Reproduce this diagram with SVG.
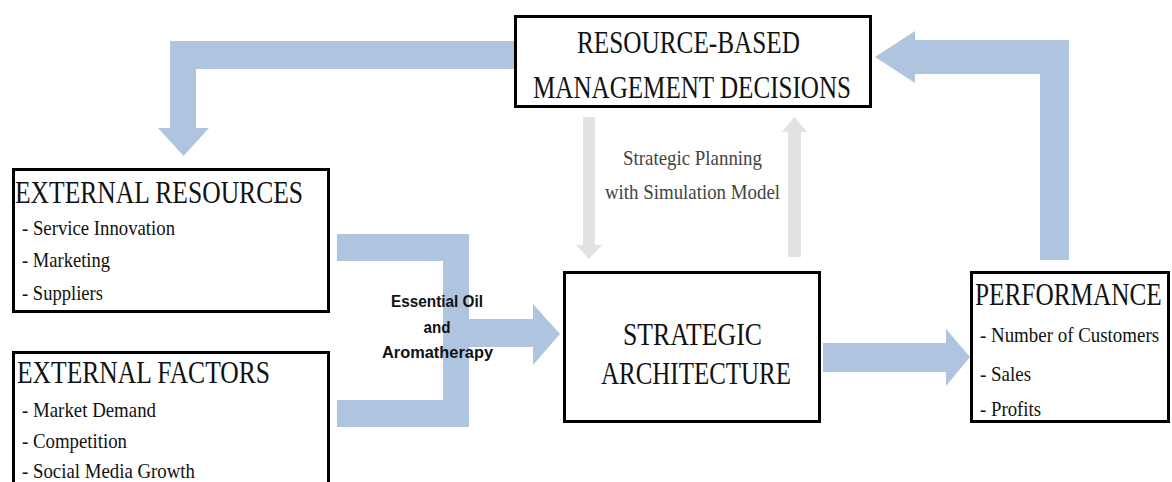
<svg xmlns="http://www.w3.org/2000/svg" width="1172" height="482" viewBox="0 0 1172 482">
<style>
.box{fill:#fff;stroke:#000;stroke-width:3}
.t{font-family:"Liberation Serif","Times New Roman",serif;fill:#111}
.title{font-size:32px}
.item{font-size:22px}
.blue{fill:#afc4de}
.gray{fill:#e2e2e2}
.lbl{font-family:"Liberation Sans",Arial,sans-serif;font-weight:bold;font-size:17px;fill:#111;text-anchor:middle}
.plan{font-family:"Liberation Serif","Times New Roman",serif;font-size:22px;fill:#444}
</style>
<rect width="1172" height="482" fill="#fff"/>
<g id="connectors">
<polygon class="blue" points="514,41 170,41 170,128 158,128 183.5,156 209,128 196,128 196,69 514,69"/>
<polygon class="blue" points="1069,260 1069,40 915,40 915,31 875,57 915,83 915,74 1040,74 1040,260"/>
<polygon class="blue" points="337,234 469,234 469,319 533,319 533,304 560,334 533,365 533,347 469,347 469,427 337,427 337,400 443,400 443,261 337,261"/>
<polygon class="blue" points="823,343 946,343 946,329 970,357 946,386 946,372 823,372"/>
<polygon class="gray" points="583,117 595,117 595,245 602,245 589,259 576,245 583,245"/>
<polygon class="gray" points="788,257 801,257 801,132 807,132 794.5,117 782,132 788,132"/>
<text class="plan" x="623" y="165" textLength="139" lengthAdjust="spacingAndGlyphs">Strategic Planning</text>
<text class="plan" x="605" y="199" textLength="175" lengthAdjust="spacingAndGlyphs">with Simulation Model</text>
<text class="lbl" x="437" y="307" textLength="92" lengthAdjust="spacingAndGlyphs">Essential Oil</text>
<text class="lbl" x="437" y="333" textLength="27" lengthAdjust="spacingAndGlyphs">and</text>
<text class="lbl" x="437.5" y="358" textLength="111" lengthAdjust="spacingAndGlyphs">Aromatherapy</text>
</g>
<g id="resource-based">
<rect class="box" x="515.5" y="16.5" width="355" height="90"/>
<text class="t title" x="577" y="53" textLength="223" lengthAdjust="spacingAndGlyphs">RESOURCE-BASED</text>
<text class="t title" x="533" y="98" textLength="318" lengthAdjust="spacingAndGlyphs">MANAGEMENT DECISIONS</text>
</g>
<g id="external-resources">
<rect class="box" x="13.5" y="169.5" width="315" height="142"/>
<text class="t title" x="15" y="203" textLength="288" lengthAdjust="spacingAndGlyphs">EXTERNAL RESOURCES</text>
<text class="t item" x="22" y="235" textLength="153" lengthAdjust="spacingAndGlyphs">- Service Innovation</text>
<text class="t item" x="22" y="267" textLength="88" lengthAdjust="spacingAndGlyphs">- Marketing</text>
<text class="t item" x="22" y="300" textLength="81" lengthAdjust="spacingAndGlyphs">- Suppliers</text>
</g>
<g id="external-factors">
<rect class="box" x="13.5" y="352.5" width="315" height="140"/>
<text class="t title" x="17" y="383" textLength="253" lengthAdjust="spacingAndGlyphs">EXTERNAL FACTORS</text>
<text class="t item" x="22" y="417" textLength="134" lengthAdjust="spacingAndGlyphs">- Market Demand</text>
<text class="t item" x="22" y="448" textLength="105" lengthAdjust="spacingAndGlyphs">- Competition</text>
<text class="t item" x="22" y="478" textLength="173" lengthAdjust="spacingAndGlyphs">- Social Media Growth</text>
</g>
<g id="strategic-architecture">
<rect class="box" x="564.5" y="272.5" width="255" height="149"/>
<text class="t title" x="623" y="345" textLength="139" lengthAdjust="spacingAndGlyphs">STRATEGIC</text>
<text class="t title" x="601" y="384" textLength="190" lengthAdjust="spacingAndGlyphs">ARCHITECTURE</text>
</g>
<g id="performance">
<rect class="box" x="971.5" y="272.5" width="197" height="149"/>
<text class="t title" transform="translate(975,305) scale(0.79,1)" x="0" y="0">PERFORMANCE</text>
<text class="t item" transform="translate(980,342) scale(0.86,1)" x="0" y="0">- Number of Customers</text>
<text class="t item" x="980" y="381" textLength="51" lengthAdjust="spacingAndGlyphs">- Sales</text>
<text class="t item" x="980" y="416" textLength="61" lengthAdjust="spacingAndGlyphs">- Profits</text>
</g>
</svg>
